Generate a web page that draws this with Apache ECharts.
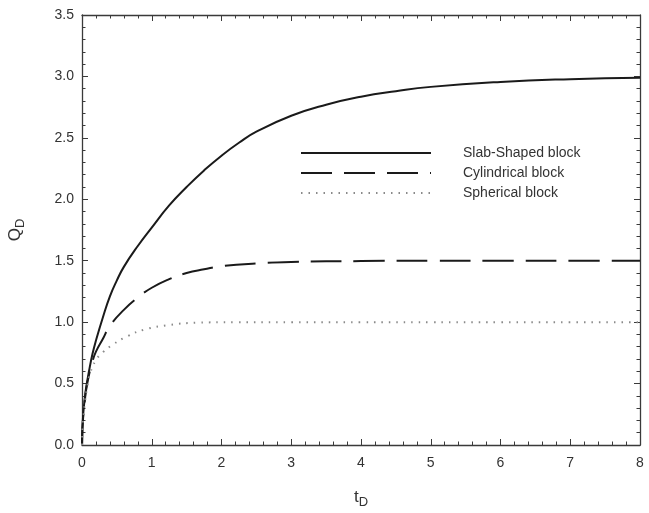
<!DOCTYPE html>
<html>
<head>
<meta charset="utf-8">
<script src="https://cdn.jsdelivr.net/npm/echarts@6/dist/echarts.min.js"></script>
<style>html,body{margin:0;padding:0;background:#fff}#c{width:649px;height:513px}</style>
</head>
<body>
<div id="c"></div>
<script>
// Data
const seriesNames = ['Slab-Shaped block', 'Cylindrical block', 'Spherical block'];

const slabT = [0, 0.005, 0.01, 0.02, 0.04, 0.06, 0.1, 0.15, 0.2, 0.3, 0.4, 0.5, 0.6, 0.8, 1.0, 1.25, 1.5, 1.75, 2.0, 2.25, 2.5, 3.0, 3.5, 4.0, 4.5, 5.0, 6.0, 7.0, 8.0];
const slabQ = [0, 0.13, 0.18, 0.27, 0.38, 0.47, 0.60, 0.74, 0.85, 1.04, 1.21, 1.34, 1.45, 1.62, 1.77, 1.95, 2.10, 2.235, 2.355, 2.46, 2.55, 2.68, 2.77, 2.835, 2.88, 2.915, 2.955, 2.978, 2.99];

const cylT = [0, 0.005, 0.01, 0.02, 0.04, 0.06, 0.1, 0.15, 0.2, 0.3, 0.4, 0.6, 0.8, 1.0, 1.25, 1.5, 1.75, 2.0, 2.5, 3.0, 4.0, 5.0, 6.0, 7.0, 8.0];
const cylQ = [0, 0.12, 0.17, 0.25, 0.36, 0.45, 0.57, 0.68, 0.76, 0.865, 0.97, 1.10, 1.20, 1.28, 1.35, 1.40, 1.43, 1.455, 1.478, 1.49, 1.497, 1.50, 1.50, 1.50, 1.50];

const sphT = [0, 0.005, 0.01, 0.02, 0.04, 0.08, 0.12, 0.2, 0.3, 0.45, 0.65, 0.9, 1.25, 1.65, 2.2, 3.0, 4.0, 5.0, 6.0, 7.0, 8.0];
const sphQ = [0, 0.11, 0.16, 0.23, 0.34, 0.49, 0.59, 0.69, 0.755, 0.82, 0.885, 0.94, 0.977, 0.995, 1.0, 1.0, 1.0, 1.0, 1.0, 1.0, 1.0];

const xTicks = [0, 1, 2, 3, 4, 5, 6, 7, 8];
const yTicks = [0.0, 0.5, 1.0, 1.5, 2.0, 2.5, 3.0, 3.5];

const zip = (a, b) => a.map((v, i) => [v, b[i]]);

const axisCol = '#3a3a3a';
const font = 'Liberation Sans, Arial, sans-serif';

function baseX(show) {
  return {
    type: 'value', min: xTicks[0], max: xTicks[xTicks.length - 1], interval: 1,
    position: show ? 'bottom' : 'top',
    axisLine: { show: true, onZero: false, lineStyle: { color: axisCol, width: 1.3 } },
    axisTick: { show: true, inside: true, length: 6, lineStyle: { color: axisCol, width: 1 } },
    minorTick: { show: true, splitNumber: 5, length: 3.5, lineStyle: { color: axisCol, width: 1 } },
    splitLine: { show: false },
    axisLabel: { show: show, fontSize: 14, color: '#333', fontFamily: font, margin: 11 }
  };
}
function baseY(show) {
  return {
    type: 'value', min: yTicks[0], max: yTicks[yTicks.length - 1], interval: 0.5,
    position: show ? 'left' : 'right',
    axisLine: { show: true, onZero: false, lineStyle: { color: axisCol, width: 1.3 } },
    axisTick: { show: true, inside: true, length: 6, lineStyle: { color: axisCol, width: 1 } },
    minorTick: { show: true, splitNumber: 5, length: 3.5, lineStyle: { color: axisCol, width: 1 } },
    splitLine: { show: false },
    axisLabel: { show: show, fontSize: 14, color: '#333', fontFamily: font, margin: 8,
      formatter: v => v.toFixed(1) }
  };
}

const xMain = baseX(true);
xMain.name = '{a|t}{b|D}';
xMain.nameLocation = 'middle';
xMain.nameGap = 41;
xMain.nameTextStyle = { rich: {
  a: { fontSize: 17, fontFamily: font, color: '#333' },
  b: { fontSize: 13, fontFamily: font, color: '#333', padding: [10, 0, 0, 0] } } };

const yMain = baseY(true);
yMain.name = '{a|Q}{b|D}';
yMain.nameLocation = 'middle';
yMain.nameGap = 55;
yMain.nameTextStyle = { rich: {
  a: { fontSize: 17, fontFamily: font, color: '#333' },
  b: { fontSize: 13, fontFamily: font, color: '#333', padding: [10, 0, 0, 0] } } };

const lineCommon = { smooth: 0.5, showSymbol: false, symbol: 'none' };

const chart = echarts.init(document.getElementById('c'), null, { renderer: 'canvas' });
chart.setOption({
  animation: false,
  backgroundColor: '#fff',
  grid: { left: 82, right: 9, top: 15, bottom: 68, containLabel: false, outerBoundsMode: 'none' },
  xAxis: [xMain, baseX(false)],
  yAxis: [yMain, baseY(false)],
  legend: {
    orient: 'vertical', left: 300, top: 146, padding: 0,
    itemWidth: 130, itemHeight: 14, itemGap: 6,
    itemStyle: { opacity: 0 },
    textStyle: { fontSize: 14, color: '#333', fontFamily: font, padding: [0, 0, 0, 27] },
    data: seriesNames
  },
  series: [
    Object.assign({ name: seriesNames[0], type: 'line', data: zip(slabT, slabQ),
      lineStyle: { color: '#1a1a1a', width: 2, type: 'solid' }, itemStyle: { color: '#1a1a1a' } }, lineCommon),
    Object.assign({ name: seriesNames[1], type: 'line', data: zip(cylT, cylQ),
      lineStyle: { color: '#1a1a1a', width: 2, type: [31, 12] }, itemStyle: { color: '#1a1a1a' } }, lineCommon),
    Object.assign({ name: seriesNames[2], type: 'line', data: zip(sphT, sphQ),
      lineStyle: { color: '#8a8a8a', width: 2, type: [1.5, 6] }, itemStyle: { color: '#8a8a8a' } }, lineCommon)
  ]
});
</script>
</body>
</html>
